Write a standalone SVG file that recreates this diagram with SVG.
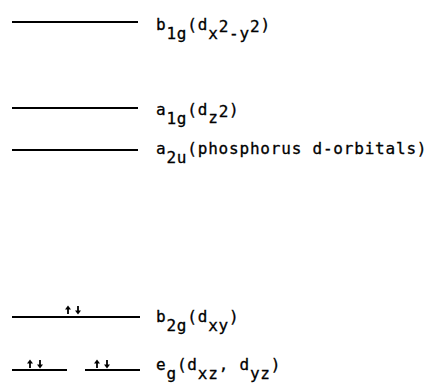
<svg xmlns="http://www.w3.org/2000/svg" width="427" height="385" viewBox="0 0 427 385">
<style>
.lv{stroke:#000;stroke-width:2;fill:none}
.t{font-family:"DejaVu Sans Mono","Liberation Mono",monospace;font-size:16px;letter-spacing:0.8px;fill:#000;stroke:#000;stroke-width:0.3px}
</style>
<defs>
<g id="pair">
<path d="M0,8V2M10,0V6" stroke="#000" stroke-width="1.8" fill="none"/>
<path d="M-3,3.6L0,-0.5L3,3.6Z M7,4.4L10,8.5L13,4.4Z" fill="#000"/>
</g>
</defs>
<rect width="427" height="385" fill="#fff"/>
<g id="connectors"></g>
<g id="b1g">
<line class="lv" x1="12" y1="22" x2="138" y2="22"/>
<text class="t" x="156" y="30">b<tspan y="39">1g</tspan><tspan y="30">(d</tspan><tspan y="39">x</tspan><tspan y="32">2</tspan><tspan y="39">-y</tspan><tspan y="32">2</tspan><tspan y="30">)</tspan></text>
</g>
<g id="a1g">
<line class="lv" x1="12" y1="108" x2="138" y2="108"/>
<text class="t" x="156" y="115">a<tspan y="124">1g</tspan><tspan y="115">(d</tspan><tspan y="123">z</tspan><tspan y="117">2</tspan><tspan y="115">)</tspan></text>
</g>
<g id="a2u">
<line class="lv" x1="12" y1="150" x2="138" y2="150"/>
<text class="t" x="156" y="154">a<tspan y="163">2u</tspan><tspan y="154">(phosphorus d-orbitals)</tspan></text>
</g>
<g id="b2g">
<line class="lv" x1="12" y1="317" x2="140" y2="317"/>
<use href="#pair" x="68" y="306"/>
<text class="t" x="156" y="322">b<tspan y="331">2g</tspan><tspan y="322">(d</tspan><tspan y="331">xy</tspan><tspan y="322">)</tspan></text>
</g>
<g id="eg">
<line class="lv" x1="12" y1="370" x2="67" y2="370"/>
<line class="lv" x1="85" y1="370" x2="140" y2="370"/>
<use href="#pair" x="30" y="360"/>
<use href="#pair" x="97" y="360"/>
<text class="t" x="156" y="370">e<tspan y="379">g</tspan><tspan y="370">(d</tspan><tspan y="379">xz</tspan><tspan y="370">, d</tspan><tspan y="379">yz</tspan><tspan y="370">)</tspan></text>
</g>
</svg>
